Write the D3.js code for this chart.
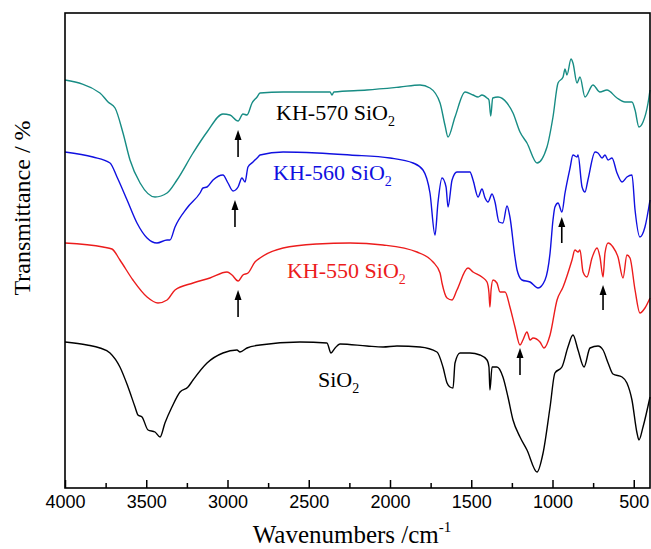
<!DOCTYPE html>
<html>
<head>
<meta charset="utf-8">
<script src="https://cdn.jsdelivr.net/npm/d3@7"></script>
<style>
  body { margin: 0; background: #fff; }
  svg { display: block; }
</style>
</head>
<body>
<svg width="651" height="549"></svg>
<script>
// wavenumber (cm-1) and offset transmittance (a.u.)
const kh570 = [
  [4000,408],[3785,395],[3735,386],[3692,380],[3643,355],[3600,328],[3538,305],[3446,291],[3372,295],
  [3311,308],[3212,335],[3126,356],[3028,374],[2985,373],[2935,367],[2905,374],[2880,373],[2849,385],
  [2818,391],[2800,395],[2658,396],[2369,396],[2357,393],[2345,396],[2142,398],[1938,401],[1815,403],
  [1754,400],[1692,385],[1662,363],[1643,351],[1600,371],[1538,396],[1489,393],[1458,391],[1434,393],
  [1403,390],[1391,388],[1380,372],[1368,390],[1335,391],[1280,385],[1243,375],[1200,356],[1157,345],
  [1095,325],[1034,341],[997,371],[966,405],[935,411],[923,419],[911,413],[886,429],[874,425],
  [849,405],[831,411],[800,391],[751,403],[708,396],[665,398],[603,390],[554,386],[511,386],
  [492,378],[468,361],[443,366],[412,385],[400,398]
];
const kh560 = [
  [4000,336],[3828,331],[3723,325],[3680,311],[3618,288],[3557,265],[3495,250],[3434,245],[3372,248],
  [3354,248],[3323,261],[3249,280],[3169,295],[3151,300],[3126,301],[3089,308],[3028,313],[2997,305],
  [2966,297],[2935,301],[2911,310],[2892,306],[2874,321],[2843,326],[2812,331],[2800,333],[2658,336],
  [2449,335],[2246,333],[2000,330],[1858,325],[1797,318],[1754,295],[1723,253],[1705,285],[1680,310],
  [1655,301],[1643,281],[1618,308],[1588,316],[1508,316],[1489,308],[1458,291],[1434,299],[1415,290],
  [1397,286],[1372,294],[1354,286],[1329,266],[1305,265],[1280,282],[1262,271],[1231,231],[1218,218],
  [1188,208],[1138,206],[1089,200],[1046,208],[1015,235],[997,268],[985,281],[966,285],[942,276],
  [923,295],[892,320],[874,333],[849,331],[843,333],[818,301],[800,296],[782,308],[738,336],
  [720,335],[695,330],[677,333],[658,328],[634,330],[603,315],[572,306],[542,311],[511,313],
  [492,278],[462,251],[431,261],[400,288]
];
const kh550 = [
  [4000,245],[3766,241],[3711,239],[3662,228],[3582,208],[3495,191],[3428,185],[3372,188],[3323,198],
  [3212,205],[3108,210],[3003,216],[2972,213],[2935,207],[2905,213],[2874,215],[2831,226],[2800,230],
  [2658,240],[2449,244],[2246,245],[2043,243],[1834,236],[1735,226],[1692,215],[1680,205],[1649,190],
  [1618,188],[1588,198],[1520,220],[1489,216],[1434,211],[1403,206],[1391,195],[1385,181],[1378,198],
  [1366,208],[1342,205],[1323,196],[1292,196],[1262,181],[1231,161],[1200,143],[1182,148],[1157,156],
  [1138,148],[1120,150],[1077,146],[1052,140],[1015,153],[972,188],[935,201],[880,228],[862,238],
  [843,236],[831,238],[812,216],[788,211],[757,230],[726,240],[708,231],[689,211],[677,235],
  [658,245],[628,241],[597,231],[566,210],[542,233],[523,230],[492,198],[462,175],[431,180],[400,190]
];
const sio2 = [
  [4000,146],[3865,143],[3785,140],[3723,135],[3662,121],[3612,101],[3569,81],[3551,73],[3526,71],
  [3489,58],[3446,56],[3415,51],[3385,65],[3342,81],[3292,96],[3243,101],[3212,108],[3126,125],
  [3028,135],[2942,138],[2923,136],[2880,140],[2800,143],[2554,146],[2388,145],[2363,135],[2338,140],
  [2308,144],[2142,142],[2043,141],[1957,142],[1815,141],[1711,136],[1674,121],[1649,105],[1631,101],
  [1612,100],[1600,125],[1569,135],[1508,135],[1446,133],[1403,128],[1391,121],[1385,98],[1372,121],
  [1342,121],[1305,111],[1274,91],[1243,68],[1200,51],[1157,38],[1095,16],[1058,35],[1015,81],
  [985,115],[942,121],[905,141],[874,153],[843,138],[806,121],[769,140],[720,142],[689,138],
  [658,125],[628,114],[572,111],[542,105],[511,88],[480,55],[468,48],[443,61],[400,91]
];

const seriesNames = ["KH-570 SiO", "KH-560 SiO", "KH-550 SiO", "SiO"];
const seriesColors = ["#178c84", "#1010e0", "#ec1c1c", "#000000"];
const majorTicks = [4000, 3500, 3000, 2500, 2000, 1500, 1000, 500];
const minorTicks = [3750, 3250, 2750, 2250, 1750, 1250, 750];
// arrows: wavenumber, tip, tail
const arrows = [[2935, 358, 331], [2954, 288, 261], [943, 271, 245], [2935, 198, 171], [1200, 140, 113], [689, 203, 178]];

const svg = d3.select("svg"),
      width = +svg.attr("width"),
      height = +svg.attr("height");

const plot = { left: 65, right: 650, top: 13, bottom: 488 };

const x = d3.scaleLinear().domain([4000, 400]).range([plot.left, plot.right]);
const y = d3.scaleLinear().domain([0, 475]).range([plot.bottom, plot.top]);

svg.append("rect").attr("width", width).attr("height", height).attr("fill", "#fff");

const line = d3.line()
    .x(d => x(d[0]))
    .y(d => y(d[1]))
    .curve(d3.curveMonotoneX);

const allSeries = [kh570, kh560, kh550, sio2];

svg.append("g")
    .selectAll("path")
    .data(allSeries)
    .enter().append("path")
    .attr("d", line)
    .attr("fill", "none")
    .attr("stroke", (d, i) => seriesColors[i])
    .attr("stroke-width", 1.4)
    .attr("stroke-linejoin", "round");

// labels next to each curve
const labelPos = [[2701, 368], [2720, 308], [2634, 210], [2443, 101]];
const labels = svg.append("g")
    .attr("font-family", "'Liberation Serif', 'Times New Roman', serif")
    .attr("font-size", 22)
    .selectAll("text")
    .data(seriesNames)
    .enter().append("text")
    .attr("x", (d, i) => x(labelPos[i][0]))
    .attr("y", (d, i) => y(labelPos[i][1]))
    .attr("fill", (d, i) => i === 0 ? "#000" : seriesColors[i]);
labels.append("tspan").text(d => d);
labels.append("tspan").attr("font-size", 14).attr("dy", 6).text("2");

// arrows
const arrowG = svg.append("g").attr("fill", "#000").attr("stroke", "#000");
arrows.forEach(a => {
    const ax = x(a[0]), tip = y(a[1]), tail = y(a[2]);
    arrowG.append("line")
        .attr("x1", ax).attr("x2", ax)
        .attr("y1", tip + 6).attr("y2", tail)
        .attr("stroke-width", 1.6);
    arrowG.append("path")
        .attr("stroke", "none")
        .attr("d", `M${ax},${tip} L${ax - 3.5},${tip + 10} L${ax + 3.5},${tip + 10} Z`);
});

// frame
svg.append("rect")
    .attr("x", plot.left).attr("y", plot.top)
    .attr("width", plot.right - plot.left).attr("height", plot.bottom - plot.top)
    .attr("fill", "none")
    .attr("stroke", "#000")
    .attr("stroke-width", 1.6);

const xAxis = svg.append("g")
    .attr("transform", `translate(0,${plot.bottom})`)
    .call(d3.axisBottom(x).tickValues(majorTicks).tickSize(-8).tickPadding(7).tickFormat(d3.format("d")));
xAxis.select(".domain").remove();
xAxis.selectAll(".tick line").attr("stroke-width", 1.5);
xAxis.selectAll("text")
    .attr("font-family", "'Liberation Sans', Arial, sans-serif")
    .attr("font-size", 18)
    .attr("fill", "#000");

const xMinor = svg.append("g")
    .attr("transform", `translate(0,${plot.bottom})`)
    .call(d3.axisBottom(x).tickValues(minorTicks).tickSize(-5).tickFormat(""));
xMinor.select(".domain").remove();
xMinor.selectAll(".tick line").attr("stroke-width", 1.5);

// axis titles
const xTitle = svg.append("text")
    .attr("x", 352).attr("y", 543)
    .attr("text-anchor", "middle")
    .attr("font-family", "'Liberation Serif', 'Times New Roman', serif")
    .attr("font-size", 25);
xTitle.append("tspan").text("Wavenumbers /cm");
xTitle.append("tspan").attr("font-size", 15).attr("dy", -11).text("-1");

svg.append("text")
    .attr("transform", "translate(30,208) rotate(-90)")
    .attr("text-anchor", "middle")
    .attr("font-family", "'Liberation Serif', 'Times New Roman', serif")
    .attr("font-size", 24)
    .text("Transmittance / %");
</script>
</body>
</html>
